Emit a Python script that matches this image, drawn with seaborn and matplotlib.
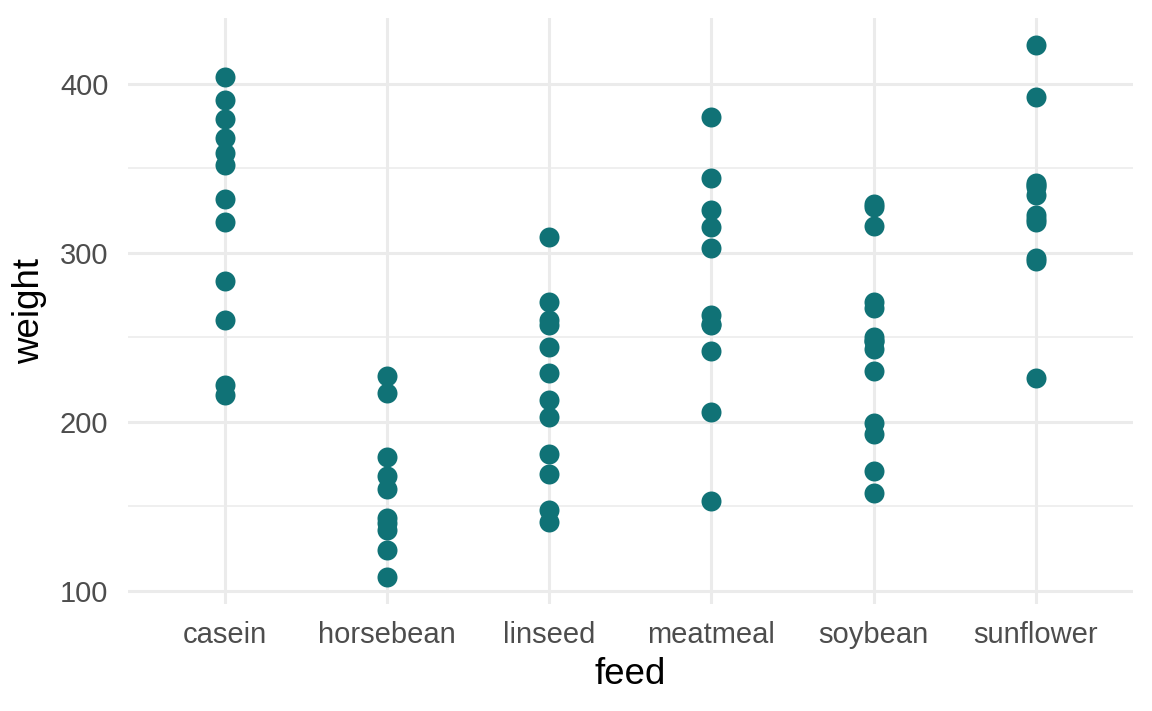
import matplotlib
matplotlib.use("Agg")
import matplotlib.pyplot as plt
import seaborn as sns
import pandas as pd
from matplotlib.ticker import MultipleLocator

# chick weights by feed supplement
casein = [368, 390, 379, 260, 404, 318, 352, 359, 216, 222, 283, 332]
horsebean = [179, 160, 136, 227, 217, 168, 108, 124, 143, 140]
linseed = [309, 229, 181, 141, 260, 203, 148, 169, 213, 257, 244, 271]
meatmeal = [325, 257, 303, 315, 380, 153, 263, 242, 206, 344, 258]
soybean = [243, 230, 248, 327, 329, 250, 193, 271, 316, 267, 199, 171, 158, 248]
sunflower = [423, 340, 392, 339, 341, 226, 320, 295, 334, 322, 297, 318]

feeds = ["casein", "horsebean", "linseed", "meatmeal", "soybean", "sunflower"]
groups = [casein, horsebean, linseed, meatmeal, soybean, sunflower]

rows = []
for name, vals in zip(feeds, groups):
    for v in vals:
        rows.append({"feed": name, "weight": v})
df = pd.DataFrame(rows)

sns.set_style("white")
plt.rcParams["font.family"] = ["Liberation Sans", "DejaVu Sans"]

fig = plt.figure(figsize=(11.52, 7.11), dpi=100)
ax = fig.add_axes([0.111, 0.1505, 0.8725, 0.8242])

sns.stripplot(data=df, x="feed", y="weight", order=feeds, jitter=False,
              color="#107276", size=14.4, linewidth=0, ax=ax, zorder=3)

ax.set_xlim(-0.6, 5.6)
ax.set_ylim(92.25, 438.75)
ax.yaxis.set_major_locator(MultipleLocator(100))
ax.yaxis.set_minor_locator(MultipleLocator(50))

ax.grid(which="major", axis="both", color="#EBEBEB", linewidth=2.2, zorder=0)
ax.grid(which="minor", axis="y", color="#EBEBEB", linewidth=1.1, zorder=0)
ax.set_axisbelow(True)
for sp in ax.spines.values():
    sp.set_visible(False)

ax.tick_params(axis="both", which="both", length=0, labelsize=21, labelcolor="#4D4D4D")
ax.tick_params(axis="y", pad=14)
ax.tick_params(axis="x", pad=12)
ax.set_xlabel("feed", fontsize=26.4, color="black", labelpad=6)
ax.set_ylabel("weight", fontsize=26.4, color="black", labelpad=9)

fig.savefig("out.png", dpi=100)
